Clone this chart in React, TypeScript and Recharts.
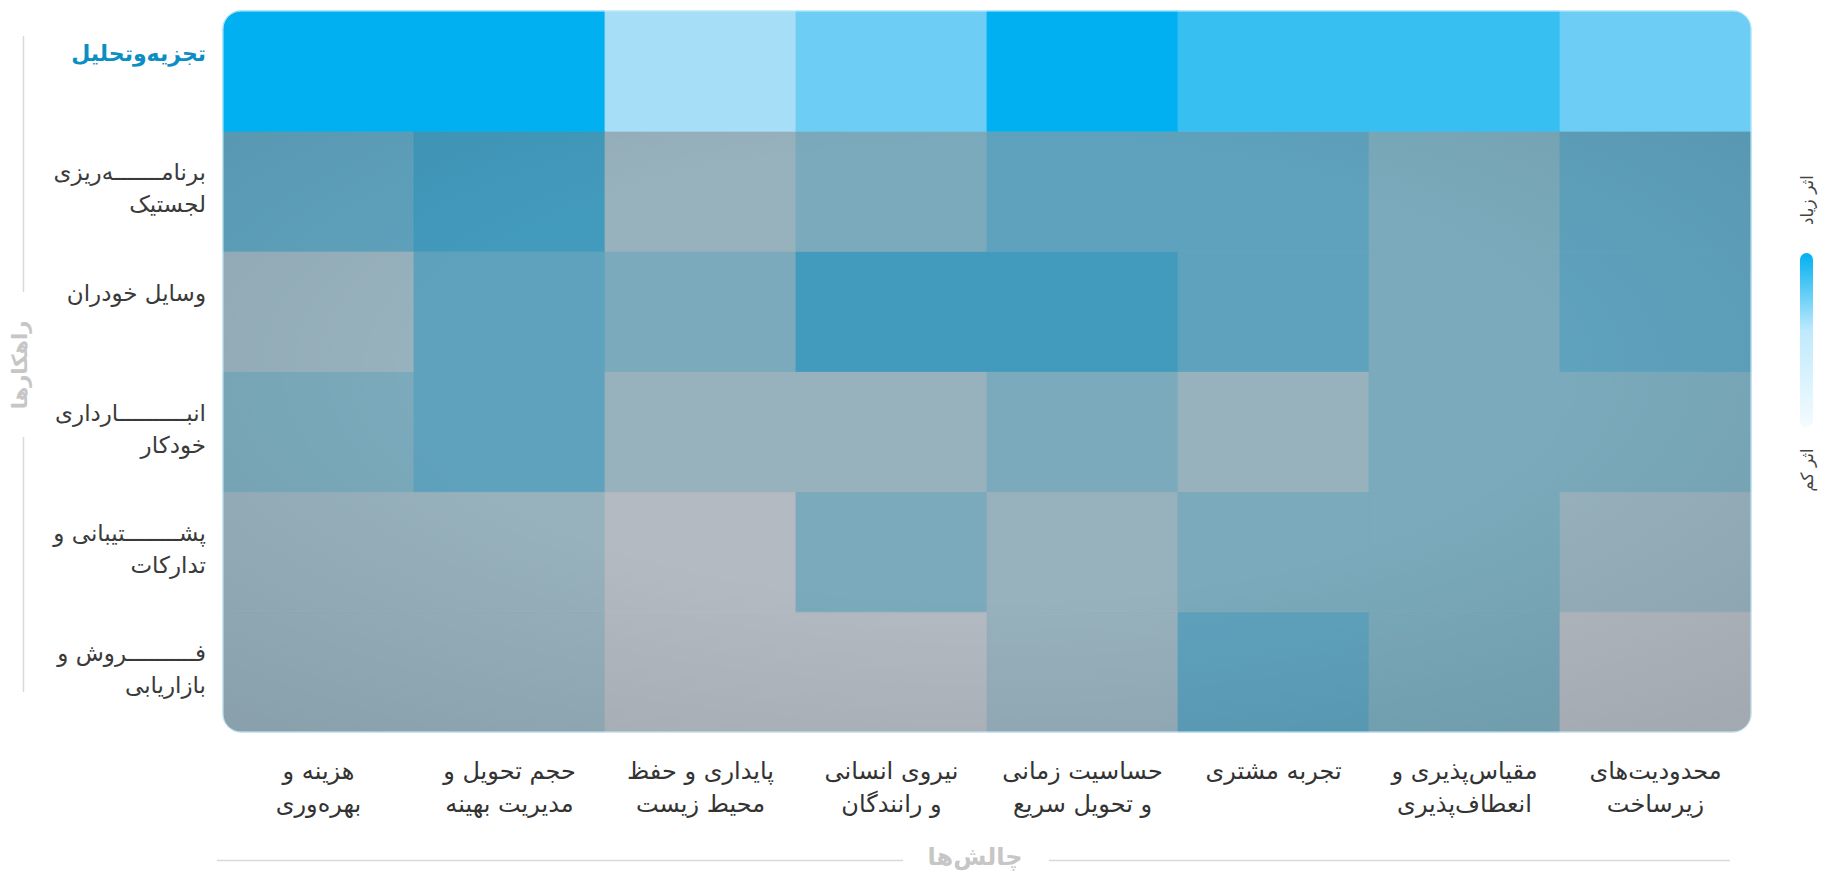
import React from "react";
import { BarChart, Bar, Cell, XAxis, YAxis, ReferenceArea, Rectangle } from "recharts";

// Columns: challenges (left → right as drawn)
const challenges = [
  "هزینه و\nبهره‌وری",
  "حجم تحویل و\nمدیریت بهینه",
  "پایداری و حفظ\nمحیط زیست",
  "نیروی انسانی\nو رانندگان",
  "حساسیت زمانی\nو تحویل سریع",
  "تجربه مشتری",
  "مقیاس‌پذیری و\nانعطاف‌پذیری",
  "محدودیت‌های\nزیرساخت",
];

// Rows: strategies (top → bottom)
const strategies = [
  "تجزیه‌وتحلیل",
  "برنامـــــــه‌ریزی\nلجستیک",
  "وسایل خودران",
  "انبــــــــــارداری\nخودکار",
  "پشــــــــتیبانی و\nتدارکات",
  "فــــــــــروش و\nبازاریابی",
];

// Impact levels (1 = low, 5 = high), one array per strategy row
const analytics = [5, 5, 2, 3, 5, 4, 4, 3];
const logisticsPlanning = [4, 5, 2, 3, 4, 4, 3, 4];
const autonomousVehicles = [2, 4, 3, 5, 5, 4, 3, 4];
const automatedWarehousing = [3, 4, 2, 2, 3, 2, 3, 3];
const supportProcurement = [2, 2, 1, 3, 2, 3, 3, 2];
const salesMarketing = [2, 2, 1, 1, 2, 4, 3, 1];

const legendHigh = "اثر زیاد";
const legendLow = "اثر کم";
const xTitle = "چالش‌ها";
const yTitle = "راهکارها";

const impactRows = [
  analytics,
  logisticsPlanning,
  autonomousVehicles,
  automatedWarehousing,
  supportProcurement,
  salesMarketing,
];

// highlighted row palette and dimmed palette (levels 1..5)
const levelColors = ["#dff3fc", "#a6ddf7", "#6dcdf4", "#38bff2", "#00b0f0"];
const dimmedColors = ["#b3bac2", "#97b1bd", "#7aaabb", "#5fa2bd", "#429abc"];
const highlightedRow = 0;

const data = challenges.map((name) => {
  const d: Record<string, any> = { name };
  strategies.forEach((_, ri) => {
    d[`r${ri}`] = 1;
  });
  return d;
});

const FONT = "'DejaVu Sans', sans-serif";
const R = 18;
const NROWS = strategies.length;

const XTick = (props: any) => {
  const { x, y, payload } = props;
  const lines = String(payload.value).split("\n");
  return (
    <text textAnchor="middle" fill="#333" fontSize={24} fontFamily={FONT}>
      {lines.map((l, i) => (
        <tspan key={i} x={x} y={y + 39 + i * 33} dominantBaseline="central">
          {l}
        </tspan>
      ))}
    </text>
  );
};

const YTick = (props: any) => {
  const { x, y, payload } = props;
  const idx = Math.round(NROWS - 0.5 - payload.value);
  const label = strategies[idx] ?? "";
  const lines = label.split("\n");
  const hl = idx === highlightedRow;
  const offs = lines.length === 1 ? [-18] : [-19, 13];
  return (
    <text
      textAnchor="end"
      fill={hl ? "#0b8ec3" : "#3a3a3a"}
      fontWeight={hl ? 700 : 400}
      fontSize={hl ? 22 : 23}
      fontFamily={FONT}
    >
      {lines.map((l, i) => (
        <tspan key={i} x={x} y={y + offs[i]} dominantBaseline="central">
          {l}
        </tspan>
      ))}
    </text>
  );
};

export default function App() {
  const rowOrder = strategies.map((_, i) => NROWS - 1 - i); // bottom row first in the stack
  return (
    <div style={{ width: 1821, height: 873 }}>
      <style>{"body{margin:0;}"}</style>
      <BarChart
        width={1821}
        height={873}
        data={data}
        margin={{ top: 11, right: 70, bottom: 41, left: 23 }}
        barCategoryGap={0}
        barGap={0}
      >
        <defs>
          <radialGradient id="vig" cx="0.5" cy="0.4" r="0.75">
            <stop offset="0.5" stopColor="#000" stopOpacity={0} />
            <stop offset="1" stopColor="#000" stopOpacity={0.09} />
          </radialGradient>
          <linearGradient id="legendGrad" x1="0" y1="0" x2="0" y2="1">
            <stop offset="0" stopColor="#00b0f0" />
            <stop offset="0.45" stopColor="#bfeafc" />
            <stop offset="1" stopColor="#f4fbff" />
          </linearGradient>
        </defs>
        <XAxis
          dataKey="name"
          interval={0}
          tickLine={false}
          axisLine={false}
          tickSize={0}
          tickMargin={0}
          height={100}
          tick={<XTick />}
        />
        <YAxis
          type="number"
          domain={[0, NROWS]}
          ticks={strategies.map((_, i) => i + 0.5)}
          interval={0}
          tickLine={false}
          axisLine={false}
          tickSize={0}
          tickMargin={17}
          width={200}
          tick={<YTick />}
        />
        {rowOrder.map((ri) => (
          <Bar key={ri} dataKey={`r${ri}`} stackId="grid" isAnimationActive={false}>
            {impactRows[ri].map((lvl, ci) => {
              let radius: any = 0;
              if (ri === 0 && ci === 0) radius = [R, 0, 0, 0];
              if (ri === 0 && ci === challenges.length - 1) radius = [0, R, 0, 0];
              if (ri === NROWS - 1 && ci === 0) radius = [0, 0, 0, R];
              if (ri === NROWS - 1 && ci === challenges.length - 1) radius = [0, 0, R, 0];
              const pal = ri === highlightedRow ? levelColors : dimmedColors;
              const c = pal[lvl - 1];
              return <Cell key={ci} fill={c} stroke={c} strokeWidth={0.8} radius={radius} />;
            })}
          </Bar>
        ))}
        <ReferenceArea
          y1={0}
          y2={NROWS - 1}
          ifOverflow="visible"
          zIndex={1500}
          shape={(p: any) => (
            <Rectangle x={p.x} y={p.y} width={p.width} height={p.height} radius={[0, 0, R, R]} fill="url(#vig)" />
          )}
        />
        <ReferenceArea
          y1={0}
          y2={NROWS}
          ifOverflow="visible"
          zIndex={1500}
          shape={(p: any) => (
            <Rectangle x={p.x} y={p.y} width={p.width} height={p.height} radius={R} fill="none" stroke="#c4ecfb" strokeWidth={1} />
          )}
        />
        {/* axis titles & guide lines */}
        <line x1={23.5} x2={23.5} y1={36} y2={292} stroke="#d9d9d9" strokeWidth={1.5} />
        <line x1={23.5} x2={23.5} y1={437} y2={692} stroke="#d9d9d9" strokeWidth={1.5} />
        <text
          x={20}
          y={365}
          transform="rotate(-90 20 365)"
          textAnchor="middle"
          dominantBaseline="central"
          fill="#c6c6c6"
          fontWeight={700}
          fontSize={21}
          fontFamily={FONT}
        >
          {yTitle}
        </text>
        <line x1={217} x2={903} y1={860.5} y2={860.5} stroke="#d9d9d9" strokeWidth={1.5} />
        <line x1={1049} x2={1730} y1={860.5} y2={860.5} stroke="#d9d9d9" strokeWidth={1.5} />
        <text
          x={975}
          y={857}
          textAnchor="middle"
          dominantBaseline="central"
          fill="#c6c6c6"
          fontWeight={700}
          fontSize={24}
          fontFamily={FONT}
        >
          {xTitle}
        </text>
        {/* color legend */}
        <rect x={1800} y={253} width={13} height={174} rx={6.5} fill="url(#legendGrad)" />
        <text
          x={1807}
          y={200}
          transform="rotate(-90 1807 200)"
          textAnchor="middle"
          dominantBaseline="central"
          fill="#444"
          fontSize={17}
          fontFamily={FONT}
        >
          {legendHigh}
        </text>
        <text
          x={1807}
          y={470}
          transform="rotate(-90 1807 470)"
          textAnchor="middle"
          dominantBaseline="central"
          fill="#444"
          fontSize={17}
          fontFamily={FONT}
        >
          {legendLow}
        </text>
      </BarChart>
    </div>
  );
}
